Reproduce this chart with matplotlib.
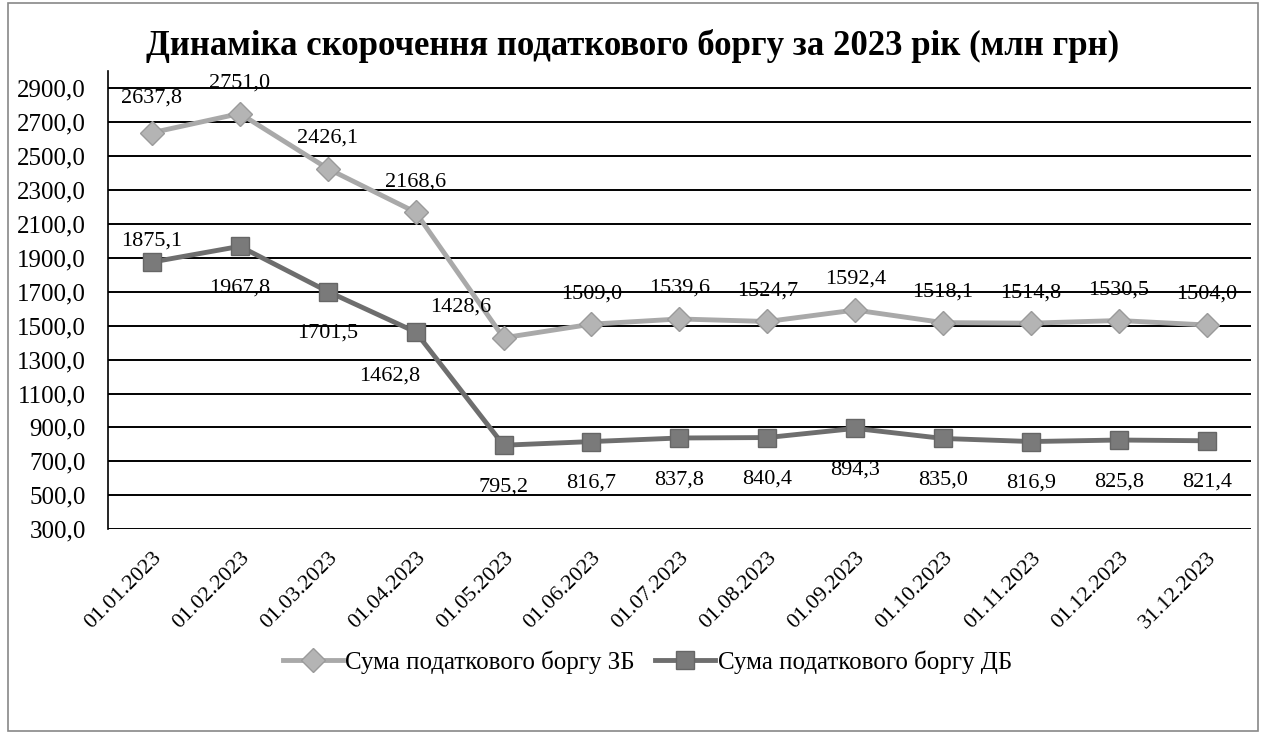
import numpy as np
import matplotlib
matplotlib.use("Agg")
import matplotlib.pyplot as plt
from matplotlib.patches import Rectangle

plt.rcParams['font.family'] = ['Liberation Serif', 'DejaVu Serif']

dates = ["01.01.2023", "01.02.2023", "01.03.2023", "01.04.2023", "01.05.2023",
         "01.06.2023", "01.07.2023", "01.08.2023", "01.09.2023", "01.10.2023",
         "01.11.2023", "01.12.2023", "31.12.2023"]
zb = [2637.8, 2751.0, 2426.1, 2168.6, 1428.6, 1509.0, 1539.6, 1524.7, 1592.4,
      1518.1, 1514.8, 1530.5, 1504.0]
db = [1875.1, 1967.8, 1701.5, 1462.8, 795.2, 816.7, 837.8, 840.4, 894.3,
      835.0, 816.9, 825.8, 821.4]
yticks = list(range(300, 3000, 200))

title = "Динаміка скорочення податкового боргу за 2023 рік (млн грн)"
label_zb = "Сума податкового боргу ЗБ"
label_db = "Сума податкового боргу ДБ"

def fmt(v):
    return f"{v:.1f}".replace(".", ",")

fig = plt.figure(figsize=(12.66, 7.35), dpi=100)
ax = fig.add_axes([0.0853, 0.280, 0.9027, 0.623])
x = np.arange(len(dates))

for y in yticks:
    ax.axhline(y, color="black", lw=1.4, zorder=1)

ax.plot(x, zb, color="#a9a9a9", lw=3.5, marker="D", markersize=12,
        markerfacecolor="#b4b4b4", markeredgecolor="#9a9a9a", label=label_zb, zorder=3)
ax.plot(x, db, color="#6e6e6e", lw=3.5, marker="s", markersize=13,
        markerfacecolor="#7a7a7a", markeredgecolor="#666666", label=label_db, zorder=3)

# data labels
for i, v in enumerate(zb):
    dx, dy = 0, 22
    if i == 0:
        dy = 25
    if i == 4:
        dx, dy = -31, 22
    ax.annotate(fmt(v), (x[i], v), xytext=(dx, dy), textcoords="offset points",
                ha="center", va="center", fontsize=16)
for i, v in enumerate(db):
    dx, dy = 0, -30
    if i == 0:
        dy = 15
    if i == 3:
        dx, dy = -19, -32
    ax.annotate(fmt(v), (x[i], v), xytext=(dx, dy), textcoords="offset points",
                ha="center", va="center", fontsize=16)

ax.set_xlim(-0.5, len(dates) - 0.5)
ax.set_ylim(300, 3000)
ax.set_yticks(yticks)
ax.set_yticklabels([fmt(v) for v in yticks], fontsize=18)
ax.set_xticks(x)
ax.set_xticklabels(dates, rotation=45, ha="right", va="top", rotation_mode="anchor", fontsize=16)
ax.tick_params(axis="y", length=0, pad=16)
ax.tick_params(axis="x", length=0, pad=14)
for s in ["top", "right", "bottom"]:
    ax.spines[s].set_visible(False)
ax.spines["left"].set_linewidth(1.2)

fig.text(0.5, 0.938, title, ha="center", va="center", fontsize=25, fontweight="bold")

ax.legend(loc="center", bbox_to_anchor=(0.472, -0.29), ncol=2, frameon=False,
          fontsize=18, handlelength=2.4, handletextpad=0.1, columnspacing=0.8)

fig.patches.append(Rectangle((0.006, 0.006), 0.988, 0.99, transform=fig.transFigure,
                             fill=False, edgecolor="#888888", lw=1.2))

plt.savefig("out.png", dpi=100)
